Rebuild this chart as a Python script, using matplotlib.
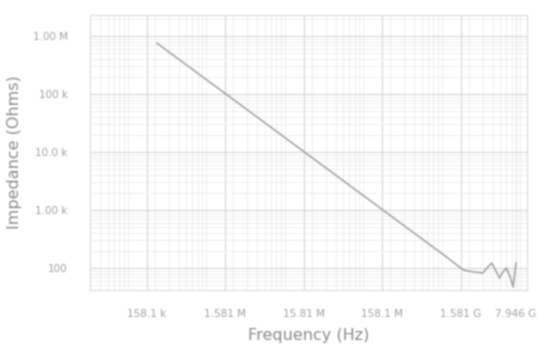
import numpy as np
import matplotlib
matplotlib.use("Agg")
import matplotlib.pyplot as plt
from matplotlib.ticker import FixedLocator, LogLocator, NullFormatter

# Swept impedance of the test capacitor
freq_hz = [212e3, 500e3, 1e6, 2e6, 5e6, 10e6, 20e6, 50e6, 100e6, 200e6, 500e6, 1e9,
           1.3e9, 1.68e9, 2.0e9, 2.4e9, 3.0e9, 3.4e9, 3.9e9, 4.4e9, 4.9e9, 5.4e9,
           6.0e9, 6.7e9, 7.3e9, 7.946e9]
impedance_ohm = [750e3, 320e3, 160e3, 80e3, 32e3, 16e3, 8.0e3, 3.2e3, 1.6e3, 800, 320, 160,
                 122, 93, 88, 85, 82, 100, 122, 90, 67, 85,
                 100, 70, 47, 122]

x_tick_values = [158.1e3, 1.581e6, 15.81e6, 158.1e6, 1.581e9, 7.946e9]
x_tick_labels = ["158.1 k", "1.581 M", "15.81 M", "158.1 M", "1.581 G", "7.946 G"]
y_tick_values = [1e6, 1e5, 1e4, 1e3, 1e2]
y_tick_labels = ["1.00 M", "100 k", "10.0 k", "1.00 k", "100"]

fig = plt.figure(figsize=(5.47, 3.6), dpi=100)
ax = fig.add_axes([0.1645, 0.1944, 0.7989, 0.7639])

ax.set_xscale("log")
ax.set_yscale("log")
ax.set_xlim(10 ** 4.473, 10 ** 10.04)
ax.set_ylim(10 ** 1.62, 10 ** 6.362)

ax.plot(freq_hz, impedance_ohm, color="#a0a0a0", lw=1.1)

ax.xaxis.set_major_locator(FixedLocator(x_tick_values))
ax.set_xticklabels(x_tick_labels)
ax.yaxis.set_major_locator(FixedLocator(y_tick_values))
ax.set_yticklabels(y_tick_labels)
ax.xaxis.set_minor_locator(LogLocator(base=10, subs=np.arange(2, 10)))
ax.yaxis.set_minor_locator(LogLocator(base=10, subs=np.arange(2, 10)))
ax.xaxis.set_minor_formatter(NullFormatter())
ax.yaxis.set_minor_formatter(NullFormatter())

ax.grid(True, which="major", color="#d6d6d6", lw=0.8)
ax.grid(True, which="minor", color="#ececec", lw=0.6)
ax.tick_params(which="both", length=0, labelsize=7.5, labelcolor="#a3a3a3")
ax.tick_params(axis="x", pad=14)
ax.tick_params(axis="y", pad=16)
for s in ax.spines.values():
    s.set_color("#dddddd")
    s.set_linewidth(0.8)

ax.set_xlabel("Frequency (Hz)", fontsize=11.5, color="#8c8c8c", labelpad=6)
ax.set_ylabel("Impedance (Ohms)", fontsize=11.5, color="#8c8c8c", labelpad=8)

# Render, soften slightly, and write the image
fig.canvas.draw()
img = np.asarray(fig.canvas.buffer_rgba())[..., :3].astype(float) / 255.0
k = np.array([0.25, 0.5, 0.25])
for axis in (0, 1):
    img = (np.roll(img, 1, axis=axis) * k[0] + img * k[1]
           + np.roll(img, -1, axis=axis) * k[2])
plt.imsave("out.png", np.clip(img, 0, 1))
